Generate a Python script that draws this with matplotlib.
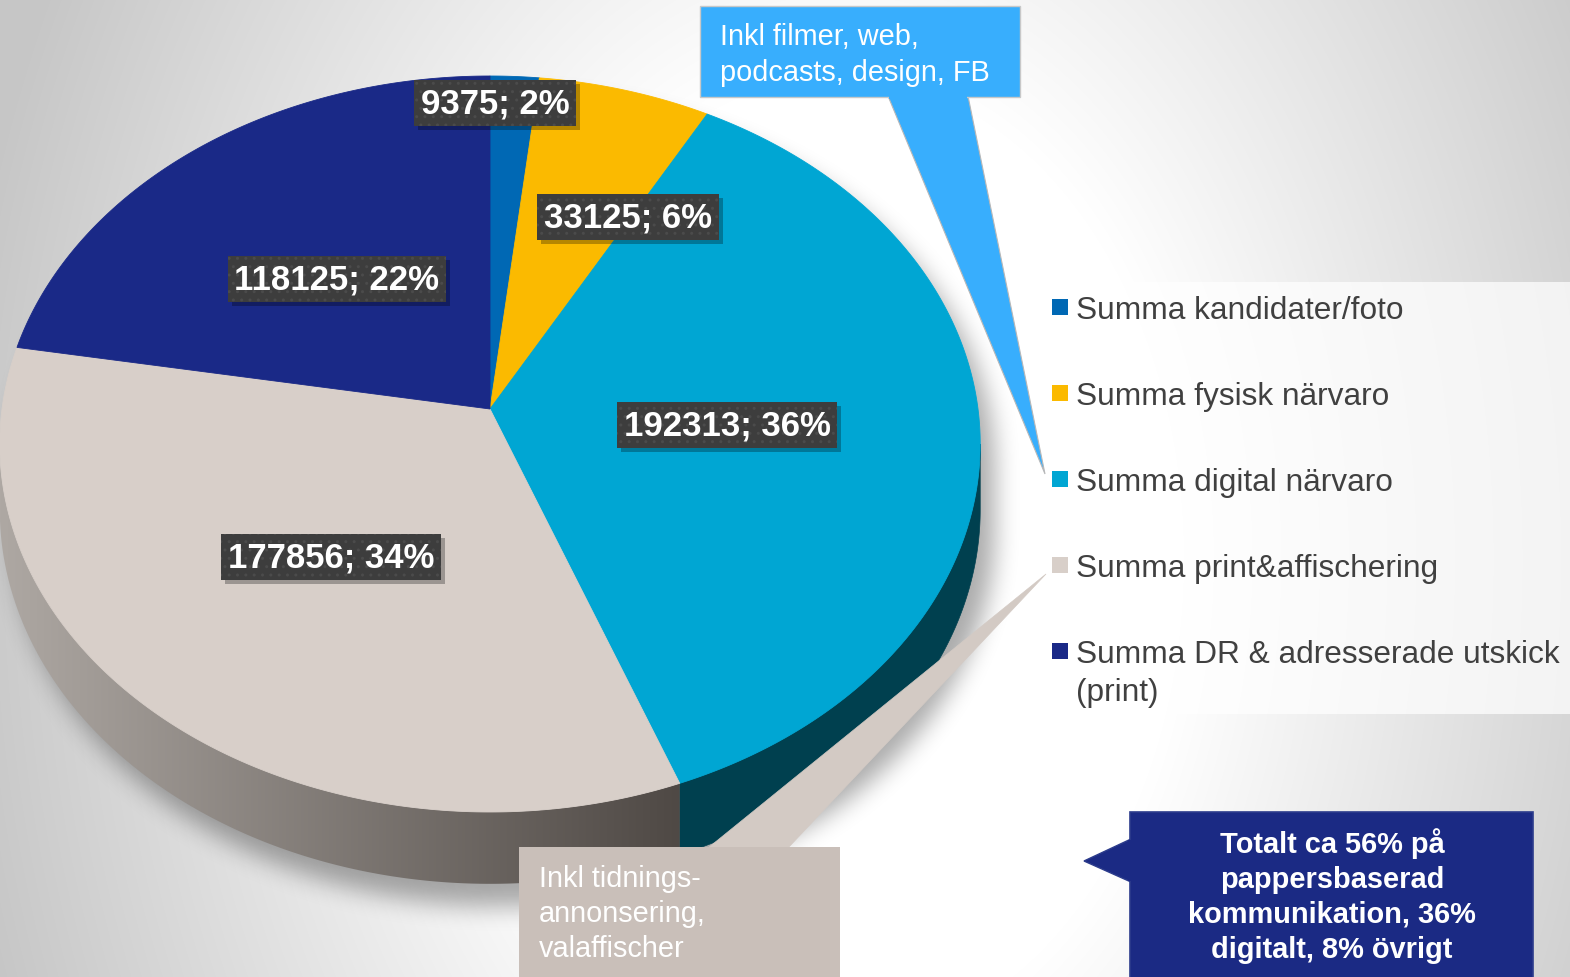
import numpy as np
import matplotlib
matplotlib.use("Agg")
import matplotlib.pyplot as plt
from matplotlib.patches import Polygon, Rectangle
from matplotlib.path import Path
from matplotlib.colors import to_rgb

# ---- data ----
categories = [
    "Summa kandidater/foto",
    "Summa fysisk närvaro",
    "Summa digital närvaro",
    "Summa print&affischering",
    "Summa DR & adresserade utskick\n(print)",
]
values = [9375, 33125, 192313, 177856, 118125]
top_colors = ["#0068b4", "#fbba00", "#00a6d3", "#d8cfc9", "#1a2987"]
side_colors = ["#004a80", "#b08300", "#00404f", None, "#101a5a"]

note_digital = "Inkl filmer, web,\npodcasts, design, FB"
note_print = "Inkl tidnings-\nannonsering,\nvalaffischer"
note_total = "Totalt ca 56% på\npappersbaserad\nkommunikation, 36%\ndigitalt, 8% övrigt"

# label centres (pixel space)
label_pos = [(495, 104), (628, 218), (727, 426), (331, 558), (337, 280)]

W, H = 1570, 978
FONT = "Liberation Sans"
plt.rcParams["hatch.linewidth"] = 1.0

fig = plt.figure(figsize=(W / 100, H / 100), dpi=100)
ax = fig.add_axes([0, 0, 1, 1])
ax.set_xlim(0, W)
ax.set_ylim(H, 0)
ax.axis("off")

# ---- background: soft radial gradient ----
yy, xx = np.mgrid[0:H, 0:W].astype(float)
t = np.sqrt(((xx - 840) / 820) ** 2 + ((yy - 560) / 1150) ** 2)
g = np.clip((t - 0.42) / (1.08 - 0.42), 0, 1)
lum = 1.0 - g * (1.0 - 0.78)
bg = np.dstack([lum, lum, lum])
ax.imshow(bg, extent=(0, W, H, 0), zorder=0, interpolation="bilinear")

# ---- perspective pie geometry ----
cx, cy = 490.0, 410.0          # apex of the slices
alpha_x = 488.0
persp = 0.0951
beta = -333.0 * (1 + persp)
depth = 65.0


def rim(theta, bottom=False):
    u, v = np.sin(theta), np.cos(theta)
    d = 1 + persp * v
    X = cx + alpha_x * u / d
    Y = cy + beta * v / d
    if bottom:
        Y = Y + depth / d
    return np.column_stack([X, Y])


total = float(sum(values))
fracs = np.array(values) / total
edges = np.concatenate([[0], np.cumsum(fracs)]) * 2 * np.pi
th_r = np.arccos(-persp)
th_l = 2 * np.pi - th_r

# ---- drop shadow under the pie ----
back = np.linspace(th_l - 2 * np.pi, th_r, 300)
front = np.linspace(th_r, th_l, 300)
sil = np.vstack([rim(back), rim(front, bottom=True)])
sil_shift = sil + np.array([14, 22])
mask = Path(sil_shift).contains_points(
    np.column_stack([xx.ravel(), yy.ravel()])).reshape(H, W).astype(float)


def box1d(a, r, axis):
    a = np.moveaxis(a, axis, -1)
    p = np.pad(a, [(0, 0), (r + 1, r)], mode="edge")
    c = np.cumsum(p, axis=-1)
    out = (c[:, 2 * r + 1:] - c[:, :-2 * r - 1]) / (2 * r + 1)
    return np.moveaxis(out, -1, axis)


blur = mask
for _ in range(3):
    blur = box1d(blur, 11, 0)
    blur = box1d(blur, 11, 1)
shadow = np.zeros((H, W, 4))
shadow[..., 3] = blur * 0.33
ax.imshow(shadow, extent=(0, W, H, 0), zorder=1, interpolation="bilinear")

# ---- side walls ----
for i in range(len(values)):
    a0, a1 = max(edges[i], th_r), min(edges[i + 1], th_l)
    if a1 <= a0:
        continue
    th = np.linspace(a0, a1, 200)
    pts = np.vstack([rim(th), rim(th[::-1], bottom=True)])
    if side_colors[i] is None:
        clip = Polygon(pts, closed=True, fc="none", lw=0, zorder=2)
        ax.add_patch(clip)
        c0, c1 = np.array(to_rgb("#aea8a3")), np.array(to_rgb("#4f4945"))
        xs = np.linspace(0, 1, 256)
        grad = c0[None, :] * (1 - xs[:, None]) + c1[None, :] * xs[:, None]
        x0, x1 = pts[:, 0].min(), pts[:, 0].max()
        y0, y1 = pts[:, 1].min(), pts[:, 1].max()
        im = ax.imshow(grad[None, :, :], extent=(x0, x1, y1, y0),
                       aspect="auto", zorder=2, interpolation="bilinear")
        im.set_clip_path(clip)
    else:
        ax.add_patch(Polygon(pts, closed=True, fc=side_colors[i],
                             ec=side_colors[i], lw=0.5, zorder=2))

# ---- top faces ----
for i in range(len(values)):
    th = np.linspace(edges[i], edges[i + 1], 300)
    pts = np.vstack([[cx, cy], rim(th)])
    ax.add_patch(Polygon(pts, closed=True, fc=top_colors[i],
                         ec=top_colors[i], lw=0.6, zorder=3))

# ---- data labels (dark dotted boxes) ----
labels = []
for i, v in enumerate(values):
    pct = round(100 * v / total)
    txt = ax.text(label_pos[i][0], label_pos[i][1], f"{v}; {pct}%",
                  ha="center", va="center", fontsize=25, fontweight="bold",
                  family=FONT, color="white", zorder=6,
                  bbox=dict(boxstyle="square,pad=0.2", fc="#3d3d3d",
                            ec="#4b4b4b", lw=0, hatch=".."))
    labels.append(txt)

# drop shadows behind the label boxes, sized from the rendered boxes
fig.canvas.draw()
inv = ax.transData.inverted()
for txt in labels:
    ext = txt.get_bbox_patch().get_window_extent()
    (x0, y0), (x1, y1) = inv.transform([[ext.x0, ext.y0], [ext.x1, ext.y1]])
    xl, xr = min(x0, x1), max(x0, x1)
    yt, yb = min(y0, y1), max(y0, y1)
    ax.add_patch(Rectangle((xl + 4, yt + 4), xr - xl, yb - yt, fc="black",
                           alpha=0.28, lw=0, zorder=5.5))

# ---- legend ----
ax.add_patch(Rectangle((1038, 283), 540, 432, fc="white", alpha=0.72,
                       lw=0, zorder=4))
leg_y = [308, 394, 480, 566, 652]
for i, name in enumerate(categories):
    ax.add_patch(Rectangle((1052, leg_y[i] - 8), 16, 16, fc=top_colors[i],
                           lw=0, zorder=5))
    n_lines = name.count("\n") + 1
    ax.text(1076, leg_y[i] + 3 + (n_lines - 1) * 19, name, ha="left",
            va="center", color="#404040", fontsize=22.8, family=FONT,
            zorder=5, linespacing=1.32)

# ---- callouts ----
blue = "#38aefd"
ax.add_patch(Polygon([(888, 97), (968, 97), (1045, 475)], closed=True,
                     fc=blue, ec="#b8b8b8", lw=0.8, zorder=7))
ax.add_patch(Rectangle((700, 7), 320, 91, fc=blue, ec="#c8c8c8", lw=1, zorder=7))
ax.add_patch(Rectangle((889, 94), 78, 6, fc=blue, lw=0, zorder=7))
ax.text(720, 55, note_digital, ha="left", va="center", color="white",
        fontsize=20.8, family=FONT, zorder=8, linespacing=1.32)

beige = "#c9bfb9"
ax.add_patch(Polygon([(708, 849), (788, 849), (1046, 575)], closed=True,
                     fc="#d3cac4", ec="#d3cac4", lw=0.5, zorder=7))
ax.add_patch(Rectangle((519, 848), 321, 140, fc=beige, lw=0, zorder=7))
ax.text(539, 914, note_print, ha="left", va="center", color="white",
        fontsize=20.8, family=FONT, zorder=8, linespacing=1.32)

navy = "#1b2a84"
ax.add_patch(Polygon([(1131, 840), (1131, 883), (1084, 862)], closed=True,
                     fc=navy, ec="#2c3c8c", lw=1, zorder=7))
ax.add_patch(Rectangle((1130, 813), 403, 180, fc=navy, ec="#2c3c8c", lw=1.2, zorder=7))
ax.add_patch(Rectangle((1128, 841), 5, 41, fc=navy, lw=0, zorder=7))
ax.text(1332, 896, note_total, ha="center", va="center", color="white",
        fontsize=20.9, fontweight="bold", family=FONT, zorder=8,
        linespacing=1.32, multialignment="center")

fig.savefig("out.png", dpi=100)
